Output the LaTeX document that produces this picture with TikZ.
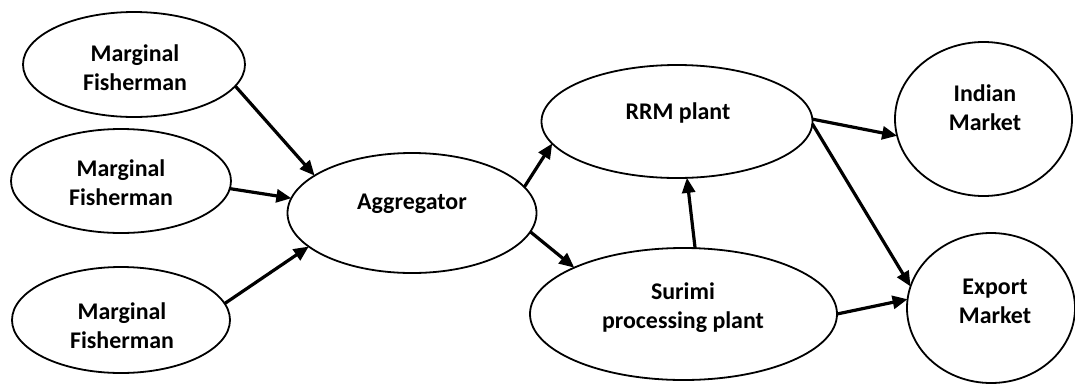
\documentclass[tikz,border=0pt]{standalone}
\usepackage{fontspec}
\setmainfont{Carlito}
\usetikzlibrary{shapes.geometric,arrows.meta}

\begin{document}
\begin{tikzpicture}[x=1bp,y=-1bp,
  oval/.style={draw, ellipse, line width=1.8bp, inner sep=0pt, outer sep=0pt},
  caption/.style={align=center, font=\fontsize{24}{29}\selectfont\bfseries, inner sep=0pt},
  flow/.style={line width=3.2bp, -{Triangle[length=15bp,width=13bp]}}]

\useasboundingbox (0,0) rectangle (1075,385);

% ovals
\node[oval, minimum width=222bp, minimum height=105bp] (mf1) at (134,64.5) {};
\node[oval, minimum width=220bp, minimum height=104bp] (mf2) at (121,181) {};
\node[oval, minimum width=218bp, minimum height=106bp] (mf3) at (121,320) {};
\node[oval, minimum width=249bp, minimum height=120bp] (agg) at (412,213) {};
\node[oval, minimum width=271bp, minimum height=113bp] (rrm) at (677,121.5) {};
\node[oval, minimum width=307bp, minimum height=132bp] (sur) at (683.5,314) {};
\node[oval, minimum width=177bp, minimum height=154bp] (ind) at (983.5,119) {};
\node[oval, minimum width=168bp, minimum height=150bp] (exp) at (991,308) {};

% captions
\node[caption] (mf1t) at (135,68) {Marginal\\Fisherman};
\node[caption] (mf2t) at (121,183) {Marginal\\Fisherman};
\node[caption] (mf3t) at (122,326) {Marginal\\Fisherman};
\node[caption] (aggt) at (412,204) {Aggregator};
\node[caption] (rrmt) at (678,113) {RRM plant};
\node[caption] (surt) at (683,308) {Surimi\\processing plant};
\node[caption] (indt) at (985,108) {Indian\\Market};
\node[caption] (expt) at (995,301) {Export\\Market};

% flows
\draw[flow] (mf1.-12.3) -- (agg.159);
\draw[flow] (mf2.-4.6) -- (agg.173.4);
\draw[flow] (mf3.9) -- (agg.198);
\draw[flow] (agg.13.8) -- (rrm.190.6);
\draw[flow] (agg.-9.5) -- (sur.157.1);
\draw[flow] (sur.80.1) -- (rrm.-80.3);
\draw[flow] (rrm.1.5) -- (ind.191.1);
\draw[flow] (rrm.-1.5) -- (exp.165.8);
\draw[flow] (sur.0.7) -- (exp.174.5);
\end{tikzpicture}
\end{document}
